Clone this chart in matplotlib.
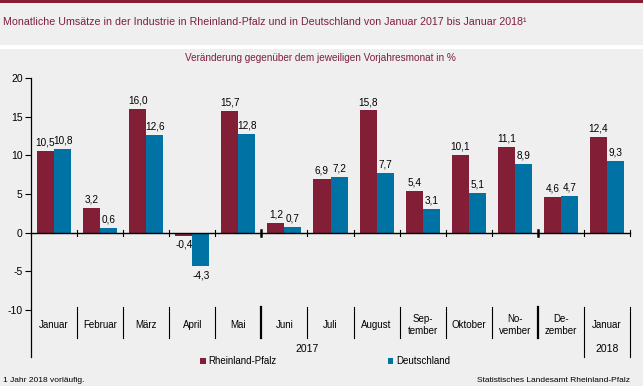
import numpy as np
import matplotlib
matplotlib.use("Agg")
import matplotlib.pyplot as plt
from matplotlib.patches import Rectangle

plt.rcParams['font.family'] = ['Liberation Sans', 'DejaVu Sans']
plt.rcParams['axes.unicode_minus'] = False

# ---- data ----
categories = ["Januar", "Februar", "März", "April", "Mai", "Juni", "Juli", "August",
              "Sep-\ntember", "Oktober", "No-\nvember", "De-\nzember", "Januar"]
years = ["2017", "2018"]
rlp = [10.5, 3.2, 16.0, -0.4, 15.7, 1.2, 6.9, 15.8, 5.4, 10.1, 11.1, 4.6, 12.4]
de = [10.8, 0.6, 12.6, -4.3, 12.8, 0.7, 7.2, 7.7, 3.1, 5.1, 8.9, 4.7, 9.3]
series_names = ["Rheinland-Pfalz", "Deutschland"]
yticks = [-10, -5, 0, 5, 10, 15, 20]

# ---- style ----
W, H = 643, 386
BG = '#EEEFEE'
RED = '#821E36'
BLUE = '#0072A3'
TITLE_C = '#7F1F3C'

fig = plt.figure(figsize=(W / 100, H / 100), dpi=100, facecolor=BG)

# top decoration
fig.add_artist(Rectangle((0, 1 - 3 / H), 1, 3 / H, transform=fig.transFigure,
                         color='#8A1C32', lw=0))
fig.add_artist(Rectangle((0, 1 - 49 / H), 1, 4 / H, transform=fig.transFigure,
                         color='white', lw=0))

fig.text(3 / W, 1 - 22 / H,
         "Monatliche Umsätze in der Industrie in Rheinland-Pfalz und in Deutschland von Januar 2017 bis Januar 2018¹",
         fontsize=7.7, color=TITLE_C, va='center', ha='left')
fig.text(320 / W, 1 - 58 / H, "Veränderung gegenüber dem jeweiligen Vorjahresmonat in %",
         fontsize=7.2, color=TITLE_C, va='center', ha='center')

x0, x1, ytop, ybot = 31, 630, 78, 310
ax = fig.add_axes([x0 / W, 1 - ybot / H, (x1 - x0) / W, (ybot - ytop) / H])
ax.set_facecolor('none')

n = len(categories)
x = np.arange(n)
w = 0.37
b1 = ax.bar(x - w / 2, rlp, w, color=RED, label=series_names[0], zorder=2)
b2 = ax.bar(x + w / 2, de, w, color=BLUE, label=series_names[1], zorder=2)

ax.set_xlim(-0.5, n - 0.5)
ax.set_ylim(-10, 20)

def fmt(v):
    return f"{v:.1f}".replace('.', ',')

for bars, vals in ((b1, rlp), (b2, de)):
    for r, v in zip(bars, vals):
        xc = r.get_x() + r.get_width() / 2
        if v >= 0:
            ax.annotate(fmt(v), (xc, v), xytext=(0, 2.5), textcoords='offset points',
                        ha='center', va='bottom', fontsize=7.2, color='black')
        else:
            ax.annotate(fmt(v), (xc, v), xytext=(0, -3), textcoords='offset points',
                        ha='center', va='top', fontsize=7.2, color='black')

# spines / ticks
for s in ('top', 'right', 'left'):
    ax.spines[s].set_visible(False)
ax.spines['bottom'].set_position(('data', 0))
ax.spines['bottom'].set_linewidth(1.0)
ax.set_xticks([])
ax.set_yticks(yticks)
ax.set_yticklabels([str(t) for t in yticks])
ax.tick_params(axis='y', direction='out', length=4, width=0.8, labelsize=7.5, pad=2)

def py(p):
    return 20 - (p - ytop) * 30 / (ybot - ytop)

# left spine (extended downward)
ax.plot([-0.5, -0.5], [20, py(357)], color='black', lw=0.9, clip_on=False, zorder=3)

# ticks on zero line
tick_h = 3 * 30 / (ybot - ytop)
thick = {4.5, 10.5}
for bnd in np.arange(0.5, n, 1.0):
    lw = 1.8 if bnd in thick else 0.8
    ax.plot([bnd, bnd], [-tick_h, tick_h], color='black', lw=lw, clip_on=False, zorder=3)

# category separators
for bnd in np.arange(0.5, n, 1.0):
    lw = 1.6 if bnd in thick else 0.8
    if bnd >= n - 1.5:
        ax.plot([bnd, bnd], [py(307), py(357)], color='black', lw=lw, clip_on=False)
    else:
        ax.plot([bnd, bnd], [py(307), py(338)], color='black', lw=lw, clip_on=False)

# category labels
for i, c in enumerate(categories):
    ax.text(i, py(324.5), c, ha='center', va='center', fontsize=7, linespacing=1.25,
            clip_on=False)
ax.text((n - 2) / 2, py(349), years[0], ha='center', va='center', fontsize=7.5, clip_on=False)
ax.text(n - 1, py(349), years[1], ha='center', va='center', fontsize=7.5, clip_on=False)

# legend
fig.legend(handles=[b1, b2], labels=series_names, loc='center',
           bbox_to_anchor=(325 / W, 1 - 361.5 / H), ncol=2, frameon=False,
           fontsize=7, handlelength=0.55, handleheight=0.55, handletextpad=0.25,
           columnspacing=11.5, borderpad=0)

# footnotes
fig.text(3 / W, 1 - 380 / H, "1 Jahr 2018 vorläufig.", fontsize=6, ha='left', va='center')
fig.text(630 / W, 1 - 380 / H, "Statistisches Landesamt Rheinland-Pfalz", fontsize=6,
         ha='right', va='center')

fig.savefig('out.png', dpi=100, facecolor=BG)
